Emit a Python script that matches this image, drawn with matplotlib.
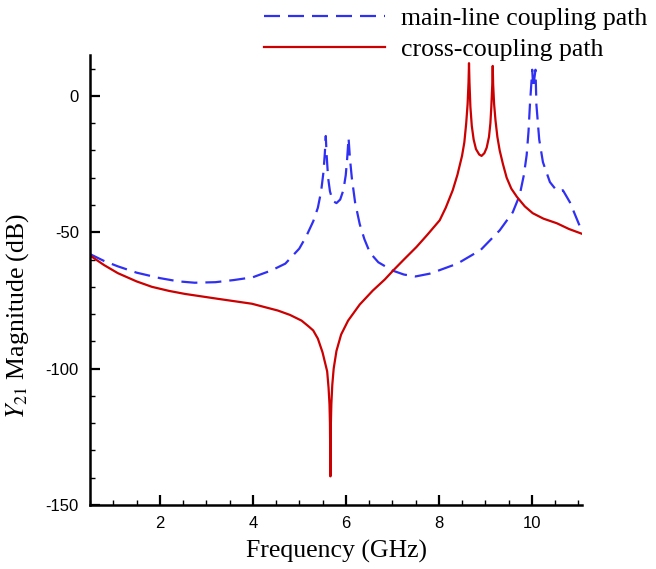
import matplotlib
matplotlib.use("Agg")
import matplotlib.pyplot as plt
from matplotlib.ticker import MultipleLocator

# Main-line coupling path |Y21| (dB) versus frequency (GHz)
freq_main = [0.5, 0.8, 1.1, 1.5, 2.0, 2.4, 2.75, 3.2, 3.6, 4.0, 4.4, 4.7,
             5.0, 5.15, 5.3, 5.4, 5.47, 5.52, 5.55, 5.57, 5.59, 5.62, 5.66,
             5.72, 5.8, 5.88, 5.95, 6.0, 6.03, 6.06, 6.09, 6.13, 6.2, 6.3,
             6.4, 6.52, 6.7, 7.0, 7.25, 7.5, 7.8, 8.0, 8.4, 8.9, 9.31, 9.59,
             9.74, 9.83, 9.89, 9.93, 9.96, 10.01, 10.03, 10.08, 10.1, 10.16,
             10.24, 10.39, 10.53, 10.6, 10.67, 10.82, 11.05]
mag_main = [-58.0, -60.5, -62.5, -64.8, -66.8, -68.0, -68.5, -68.3, -67.5,
            -66.5, -64.0, -61.5, -56.0, -51.5, -46.0, -41.0, -35.0, -28.0,
            -21.0, -14.7, -22.0, -30.0, -35.0, -38.5, -39.3, -38.0, -34.5,
            -29.0, -23.0, -15.4, -23.0, -30.0, -39.0, -47.0, -52.5, -57.5,
            -61.0, -64.0, -65.5, -66.2, -65.2, -64.0, -61.5, -56.5, -49.3,
            -42.7, -36.4, -29.0, -21.7, -13.0, -3.3, 9.6, 3.0, 9.6, -3.3,
            -16.0, -24.3, -31.6, -34.6, -34.8, -34.6, -39.0, -48.5]

# Cross-coupling path |Y21| (dB) versus frequency (GHz)
freq_cross = [0.5, 0.8, 1.1, 1.5, 1.83, 2.2, 2.54, 3.25, 3.98, 4.54, 4.8,
              5.05, 5.2, 5.3, 5.4, 5.5, 5.55, 5.6, 5.63, 5.65, 5.66, 5.67,
              5.68, 5.69, 5.71, 5.74, 5.8, 5.9, 6.05, 6.3, 6.58, 6.84, 7.02,
              7.25, 7.52, 7.75, 8.02, 8.15, 8.3, 8.4, 8.5, 8.55, 8.59, 8.62,
              8.64, 8.65, 8.66, 8.68, 8.71, 8.75, 8.8, 8.87, 8.92, 8.98,
              9.03, 9.08, 9.11, 9.13, 9.15, 9.16, 9.17, 9.19, 9.22, 9.26,
              9.31, 9.38, 9.46, 9.56, 9.68, 9.85, 10.02, 10.25, 10.54, 10.8,
              11.07]
mag_cross = [-58.5, -62.0, -65.0, -68.0, -70.0, -71.5, -72.6, -74.4, -76.2,
             -78.7, -80.3, -82.4, -84.5, -86.0, -89.0, -94.0, -97.5, -101.0,
             -107.0, -113.0, -120.0, -139.5, -120.0, -113.0, -106.0, -100.0,
             -93.5, -87.5, -82.4, -76.5, -71.4, -67.3, -64.0, -60.0, -55.4,
             -51.0, -45.6, -41.0, -34.6, -29.0, -22.0, -17.0, -10.0, -3.0,
             5.0, 12.0, 5.0, -4.0, -11.0, -16.0, -19.5, -21.5, -22.0, -21.0,
             -19.0, -15.0, -10.0, -4.0, 4.0, 11.0, 4.0, -3.0, -9.0, -15.0,
             -20.0, -25.0, -30.0, -34.0, -37.0, -40.5, -43.0, -45.0, -46.7,
             -48.8, -50.5]

x_ticks = [2, 4, 6, 8, 10]
y_ticks = [-150, -100, -50, 0]

plt.rcParams["mathtext.fontset"] = "stix"
plt.rcParams["axes.unicode_minus"] = False

fig = plt.figure(figsize=(6.56, 5.69), dpi=100)
ax = fig.add_axes([90 / 656, 1 - 505 / 569, 492 / 656, 450 / 569])

ax.plot(freq_main, mag_main, color="#3030f5", lw=1.6, dashes=(7.2, 3.6),
        label="main-line coupling path")
ax.plot(freq_cross, mag_cross, color="#cc0000", lw=1.6,
        label="cross-coupling path")

ax.set_xlim(0.5, 11.08)
ax.set_ylim(-150, 15)
ax.set_xticks(x_ticks)
ax.set_yticks(y_ticks)
ax.xaxis.set_minor_locator(MultipleLocator(0.5))
ax.yaxis.set_minor_locator(MultipleLocator(10))

for side in ("top", "right"):
    ax.spines[side].set_visible(False)
for side in ("left", "bottom"):
    ax.spines[side].set_linewidth(1.8)

ax.tick_params(which="major", direction="in", length=7, width=1.6,
               pad=8, labelsize=12)
ax.tick_params(which="minor", direction="in", length=3.8, width=1.0)
for lab in ax.get_xticklabels() + ax.get_yticklabels():
    lab.set_family("Liberation Sans")

serif = "Liberation Serif"
ax.set_xlabel("Frequency (GHz)", family=serif, fontsize=18.5)
ax.set_ylabel("$Y_{21}$ Magnitude (dB)", family=serif, fontsize=18.5)
ax.xaxis.set_label_coords(0.5, -0.078)
ax.yaxis.set_label_coords(-0.12, 0.42)

leg = fig.legend(loc="upper left", bbox_to_anchor=(264 / 656, 1 - 7 / 569),
                 frameon=False, prop={"family": serif, "size": 18.5},
                 handlelength=4.7, handletextpad=0.65, labelspacing=0.32,
                 borderpad=0.0, borderaxespad=0.0)

fig.savefig("out.png", dpi=100)
